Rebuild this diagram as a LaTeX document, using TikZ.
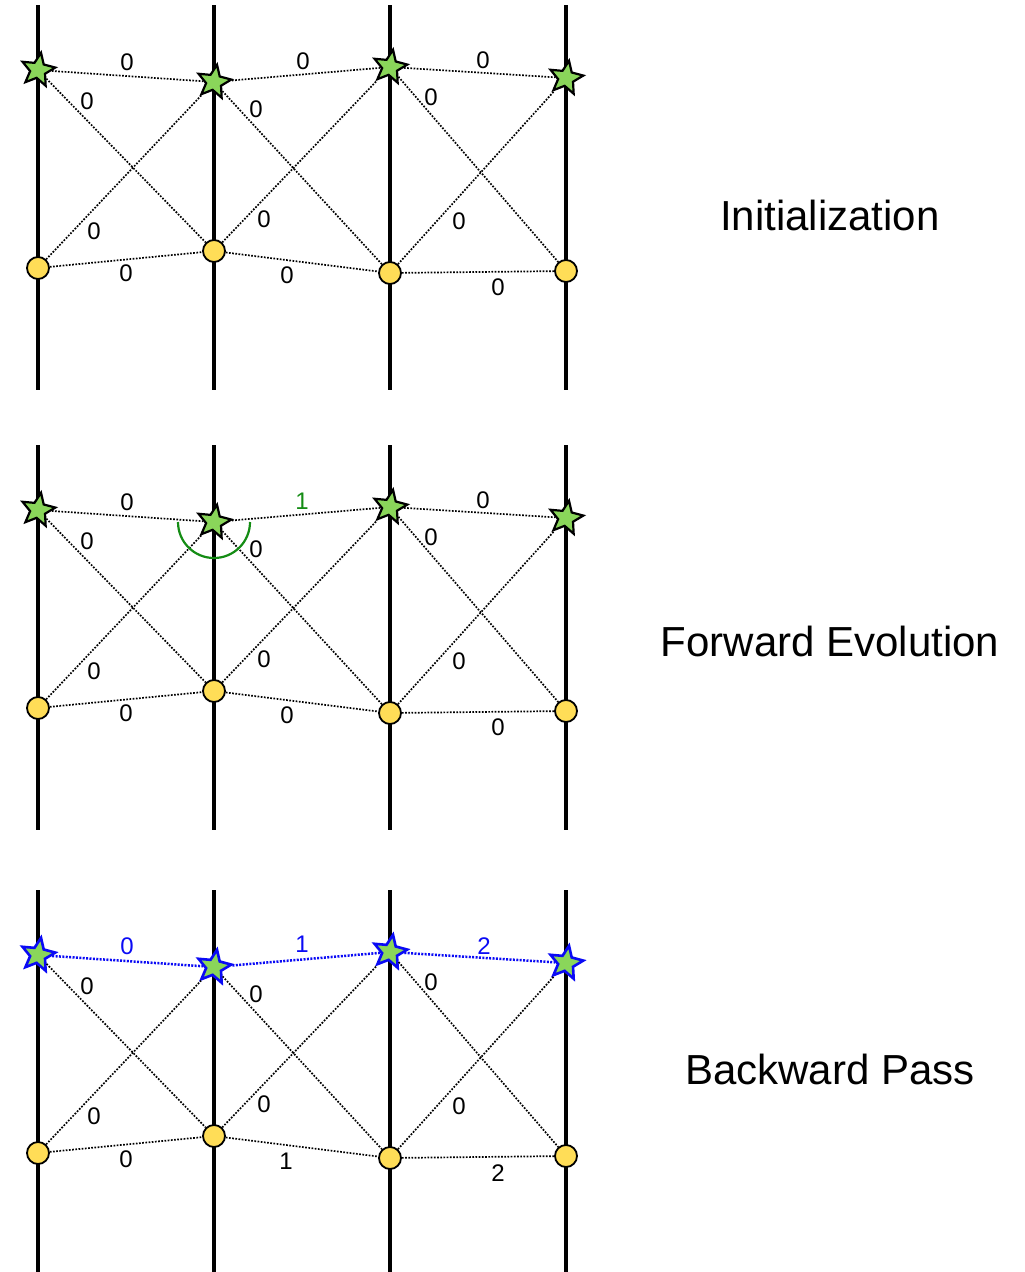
\documentclass[tikz,border=0pt]{standalone}
\usepackage{fontspec}
\setmainfont{Liberation Sans}
\usetikzlibrary{shapes.geometric}
\definecolor{leaf}{RGB}{138,214,90}
\definecolor{sun}{RGB}{255,221,87}
\definecolor{markgreen}{RGB}{20,140,20}
\definecolor{pathblue}{RGB}{10,10,245}
\begin{document}
\begin{tikzpicture}[x=1pt,y=-1pt,
  axis/.style={line width=4pt},
  link/.style={line width=1.7pt, dash pattern=on 1.7pt off 1.5pt, black},
  bluelink/.style={line width=2.5pt, dash pattern=on 2pt off 1.4pt, pathblue},
  starnode/.style={star, star points=5, star point ratio=2.2, minimum size=35pt,
                   inner sep=0pt, fill=leaf, draw=black, line width=2.2pt, rotate=-10},
  bluestar/.style={starnode, draw=pathblue, line width=2.6pt},
  dotnode/.style={circle, minimum size=22pt, inner sep=0pt, fill=sun, draw=black, line width=1.8pt},
  num/.style={font=\fontsize{24}{24}\selectfont, inner sep=0pt},
  title/.style={font=\fontsize{42}{42}\selectfont},
  pstar1/.style={starnode}, pstar2/.style={starnode}, pstar3/.style={bluestar},
  ptop1/.style={link}, ptop2/.style={link}, ptop3/.style={bluelink}]
\useasboundingbox (0,0) rectangle (1025,1272);

\foreach \p/\dy in {1/0,2/440,3/885} {
  \begin{scope}[shift={(0,\dy)}]
    % vertical wires
    \foreach \x in {38,214,390,566}
      \draw[axis] (\x,5) -- (\x,390);
    % star and circle nodes
    \node[pstar\p] (p\p s1) at (38,70) {};
    \node[pstar\p] (p\p s2) at (214,82) {};
    \node[pstar\p] (p\p s3) at (390,67) {};
    \node[pstar\p] (p\p s4) at (566,78) {};
    \node[dotnode] (p\p c1) at (38,268) {};
    \node[dotnode] (p\p c2) at (214,251) {};
    \node[dotnode] (p\p c3) at (390,273) {};
    \node[dotnode] (p\p c4) at (566,271) {};
    % links
    \draw[ptop\p] (p\p s1) -- (p\p s2);
    \draw[ptop\p] (p\p s2) -- (p\p s3);
    \draw[ptop\p] (p\p s3) -- (p\p s4);
    \draw[link] (p\p c1) -- (p\p c2);
    \draw[link] (p\p c2) -- (p\p c3);
    \draw[link] (p\p c3) -- (p\p c4);
    \draw[link] (p\p s1) -- (p\p c2);
    \draw[link] (p\p s2) -- (p\p c3);
    \draw[link] (p\p s3) -- (p\p c4);
    \draw[link] (p\p c1) -- (p\p s2);
    \draw[link] (p\p c2) -- (p\p s3);
    \draw[link] (p\p c3) -- (p\p s4);
    % diagonal weights
    \node[num] (p\p d1) at (87,101) {0};
    \node[num] (p\p d2) at (256,109) {0};
    \node[num] (p\p d3) at (431,97) {0};
    \node[num] (p\p u1) at (94,231) {0};
    \node[num] (p\p u2) at (264,219) {0};
    \node[num] (p\p u3) at (459,221) {0};
  \end{scope}
}

% panel 1 weights
\node[num] (p1t1) at (127,62) {0};
\node[num] (p1t2) at (303,61) {0};
\node[num] (p1t3) at (483,60) {0};
\node[num] (p1b1) at (126,273) {0};
\node[num] (p1b2) at (287,275) {0};
\node[num] (p1b3) at (498,287) {0};

% panel 2 weights and the marked star
\node[num] (p2t1) at (127,502) {0};
\node[num, text=markgreen] (p2t2) at (302,501) {1};
\node[num] (p2t3) at (483,500) {0};
\node[num] (p2b1) at (126,713) {0};
\node[num] (p2b2) at (287,715) {0};
\node[num] (p2b3) at (498,727) {0};
\draw[markgreen, line width=2.2pt] (p2s2.center) ++(0:36) arc[start angle=0, end angle=180, radius=36];

% panel 3 weights
\node[num, text=pathblue] (p3t1) at (127,946) {0};
\node[num, text=pathblue] (p3t2) at (302,944) {1};
\node[num, text=pathblue] (p3t3) at (484,946) {2};
\node[num] (p3b1) at (126,1159) {0};
\node[num] (p3b2) at (286,1161) {1};
\node[num] (p3b3) at (498,1173) {2};

% panel titles
\node[title] (t1) at (830,215) {Initialization};
\node[title] (t2) at (830,641) {Forward Evolution};
\node[title] (t3) at (830,1069) {Backward Pass};
\end{tikzpicture}
\end{document}
